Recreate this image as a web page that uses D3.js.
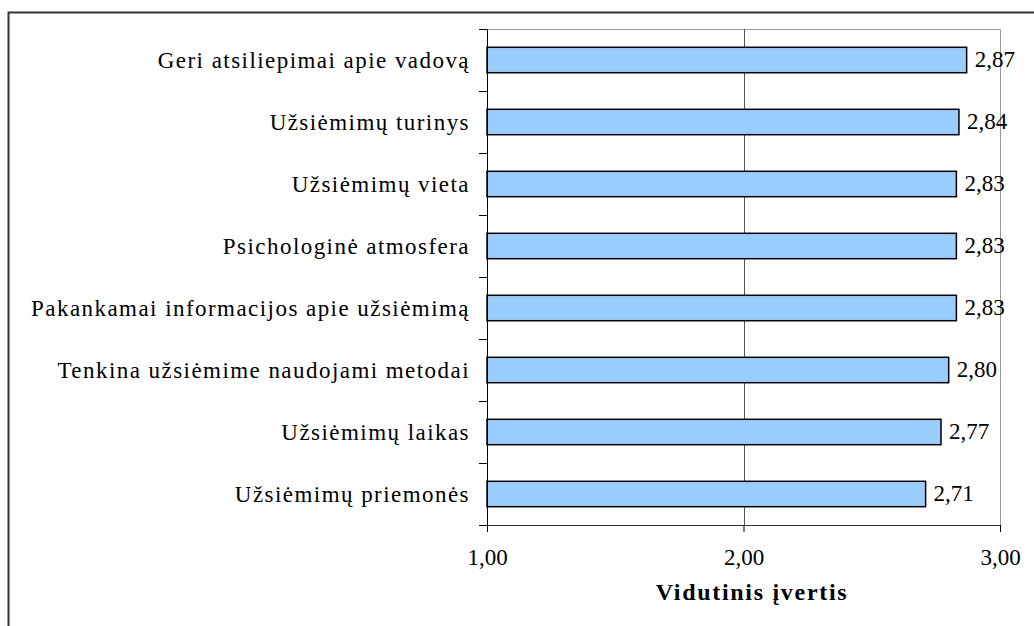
<!DOCTYPE html>
<html lang="lt">

<head>
    <meta charset="UTF-8" />
    <title>Vidutinis įvertis</title>
    <style>
        body {
            margin: 0;
            background: #fff;
        }
    </style>
</head>

<body>
    <div id="container"></div>
</body>
<script src="https://cdnjs.cloudflare.com/ajax/libs/d3/7.1.1/d3.min.js"></script>
<script>
    // duomenys
    const categories = [
        "Geri atsiliepimai apie vadovą",
        "Užsiėmimų turinys",
        "Užsiėmimų vieta",
        "Psichologinė atmosfera",
        "Pakankamai informacijos apie užsiėmimą",
        "Tenkina užsiėmime naudojami metodai",
        "Užsiėmimų laikas",
        "Užsiėmimų priemonės"
    ];
    const values = [2.87, 2.84, 2.83, 2.83, 2.83, 2.80, 2.77, 2.71];
    const xTicks = [1, 2, 3];
    const axisTitle = "Vidutinis įvertis";

    const width = 1034, height = 626;
    const pLeft = 487, pRight = 1000, pTop = 29, pBottom = 525;
    const serif = "'Liberation Serif', 'Times New Roman', serif";
    const fmt = d => d.toFixed(2).replace(".", ",");

    const svg = d3.select("#container").append("svg")
        .attr("width", width).attr("height", height);

    // rėmelis
    svg.append("rect")
        .attr("x", 8.5).attr("y", 12.5)
        .attr("width", 1040).attr("height", 640)
        .attr("fill", "none").attr("stroke", "#333").attr("stroke-width", 2);

    const x = d3.scaleLinear().domain([1, 3]).range([pLeft, pRight]);
    const y = d3.scaleBand().domain(categories).range([pTop, pBottom]).paddingInner(0.59).paddingOuter(0.295);
    const band = d3.scaleBand().domain(categories).range([pTop, pBottom]);

    // plot area rėmelis (viršus, dešinė)
    svg.append("path")
        .attr("d", `M${pLeft},${pTop + 0.5}H${pRight + 0.5}V${pBottom}`)
        .attr("fill", "none").attr("stroke", "#999");

    // tinklelis
    svg.selectAll(".grid").data(xTicks.slice(1, -1)).enter().append("line")
        .attr("x1", d => Math.round(x(d)) + 0.5).attr("x2", d => Math.round(x(d)) + 0.5)
        .attr("y1", pTop).attr("y2", pBottom)
        .attr("stroke", "#555");

    // stulpeliai
    svg.selectAll(".bar").data(values).enter().append("rect")
        .attr("x", x(1))
        .attr("y", (d, i) => y(categories[i]))
        .attr("width", d => x(d) - x(1))
        .attr("height", y.bandwidth())
        .attr("fill", "#99CCFF")
        .attr("stroke", "#000").attr("stroke-width", 1.5);

    // reikšmės
    svg.selectAll(".val").data(values).enter().append("text")
        .attr("x", d => x(d) + 8)
        .attr("y", (d, i) => y(categories[i]) + y.bandwidth() / 2 + 7)
        .attr("fill", "#000")
        .style("font-family", serif)
        .style("font-size", "23px")
        .text(fmt);

    // Y ašis
    const yAxis = d3.axisLeft(band).tickSize(0).tickFormat("");
    const gy = svg.append("g").attr("transform", `translate(${pLeft},0)`).call(yAxis);
    gy.select(".domain").attr("stroke", "#000");
    // žymės tarp kategorijų
    const bounds = categories.map(c => band(c)).concat([pBottom]);
    gy.selectAll(".sep").data(bounds).enter().append("line")
        .attr("x1", -8).attr("x2", 0)
        .attr("y1", d => Math.round(d) + 0.5).attr("y2", d => Math.round(d) + 0.5)
        .attr("stroke", "#000");
    gy.selectAll(".lab").data(categories).enter().append("text")
        .attr("x", -17)
        .attr("y", d => band(d) + band.bandwidth() / 2 + 8)
        .attr("text-anchor", "end")
        .attr("fill", "#000")
        .style("font-family", serif)
        .style("font-size", "23px")
        .style("letter-spacing", "1.45px")
        .text(d => d);

    // X ašis
    const xAxis = d3.axisBottom(x).tickValues(xTicks).tickSize(7).tickFormat(fmt);
    const gx = svg.append("g").attr("transform", `translate(0,${pBottom})`).call(xAxis);
    gx.select(".domain").attr("stroke", "#333");
    gx.selectAll(".tick line").attr("stroke", "#000");
    gx.selectAll(".tick text")
        .attr("y", 40).attr("dy", null)
        .attr("fill", "#000")
        .style("font-family", serif)
        .style("font-size", "23px");

    svg.append("text")
        .attr("x", 752)
        .attr("y", 600)
        .attr("text-anchor", "middle")
        .attr("fill", "#000")
        .style("font-family", serif)
        .style("font-size", "24px")
        .style("font-weight", "bold")
        .style("letter-spacing", "1.7px")
        .text(axisTitle);
</script>

</html>
